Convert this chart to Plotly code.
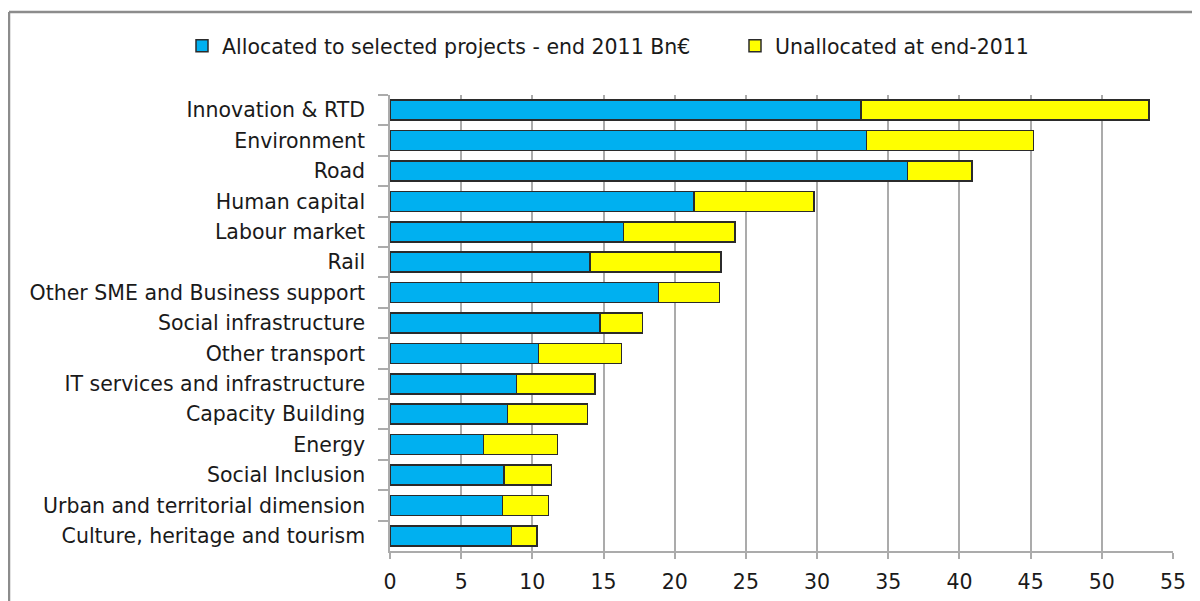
import plotly.graph_objects as go

categories = [
    "Innovation & RTD", "Environment", "Road", "Human capital", "Labour market",
    "Rail", "Other SME and Business support", "Social infrastructure",
    "Other transport", "IT services and infrastructure", "Capacity Building",
    "Energy", "Social Inclusion", "Urban and territorial dimension",
    "Culture, heritage and tourism",
]
allocated = [33.1, 33.47, 36.36, 21.36, 16.39, 14.04, 18.87, 14.75, 10.42, 8.9, 8.27, 6.56, 8.01, 7.91, 8.55]
unallocated = [20.2, 11.73, 4.51, 8.41, 7.86, 9.22, 4.26, 2.97, 5.85, 5.5, 5.59, 5.22, 3.32, 3.24, 1.78]
x_ticks = [0, 5, 10, 15, 20, 25, 30, 35, 40, 45, 50, 55]

main_font = "DejaVu Sans, sans-serif"

fig = go.Figure()
fig.add_trace(go.Bar(
    y=categories, x=allocated, orientation="h",
    name="Allocated to selected projects - end 2011 Bn€",
    marker=dict(color="#00B0F0", line=dict(color="#2b2b2b", width=1.5)),
    legend="legend",
))
fig.add_trace(go.Bar(
    y=categories, x=unallocated, orientation="h",
    name="Unallocated at end-2011",
    marker=dict(color="#FFFF00", line=dict(color="#2b2b2b", width=1.5)),
    legend="legend2",
))

# page has an 8px body margin; figure coordinates = page - 8
OFF = 8
W, H = 1200 - OFF, 601 - OFF
L = 390 - OFF
T = 95 - OFF
R = W - (1173 - OFF)
B = H - (551 - OFF)
pw, ph = W - L - R, H - T - B


def px_x(page_x):
    return (page_x - OFF - L) / pw


def px_y(page_y):
    return (H - B - (page_y - OFF)) / ph


leg_common = dict(
    orientation="h", xanchor="left", yanchor="middle", y=px_y(46),
    font=dict(family=main_font, size=20.5, color="#1a1a1a"),
    itemwidth=30, bgcolor="rgba(0,0,0,0)",
)

fig.update_layout(
    width=W, height=H,
    margin=dict(l=L, r=R, t=T, b=B, autoexpand=False),
    barmode="stack", bargap=0.34,
    plot_bgcolor="white", paper_bgcolor="white",
    showlegend=True,
    legend=dict(x=px_x(182), **leg_common),
    legend2=dict(x=px_x(735), **leg_common),
    xaxis=dict(
        range=[0, 55], tickvals=x_ticks, ticktext=[str(v) for v in x_ticks],
        showgrid=True, gridcolor="#ababab", gridwidth=1.5,
        showline=True, linecolor="#ababab", linewidth=1.5,
        ticks="outside", ticklen=6, tickcolor="#ababab", tickwidth=1.5,
        tickfont=dict(family=main_font, size=20.5, color="#1a1a1a"),
        ticklabelstandoff=6, automargin=False,
        zeroline=False, fixedrange=True,
    ),
    yaxis=dict(
        categoryorder="array", categoryarray=categories, autorange="reversed",
        showline=True, linecolor="#ababab", linewidth=1.5,
        ticks="outside", ticklen=10, tickcolor="#ababab", tickwidth=1.5,
        tickson="boundaries",
        tickfont=dict(family=main_font, size=20.5, color="#1a1a1a"),
        ticklabelstandoff=19, automargin=False,
        showgrid=False, zeroline=False,
    ),
    shapes=[
        dict(type="line", xref="paper", yref="paper",
             x0=px_x(9), x1=px_x(9), y0=px_y(12), y1=px_y(640),
             line=dict(color="#8c8c8c", width=2.5)),
        dict(type="line", xref="paper", yref="paper",
             x0=px_x(9), x1=px_x(1250), y0=px_y(12), y1=px_y(12),
             line=dict(color="#8c8c8c", width=2.5)),
    ],
)

fig.write_html("out.html")
